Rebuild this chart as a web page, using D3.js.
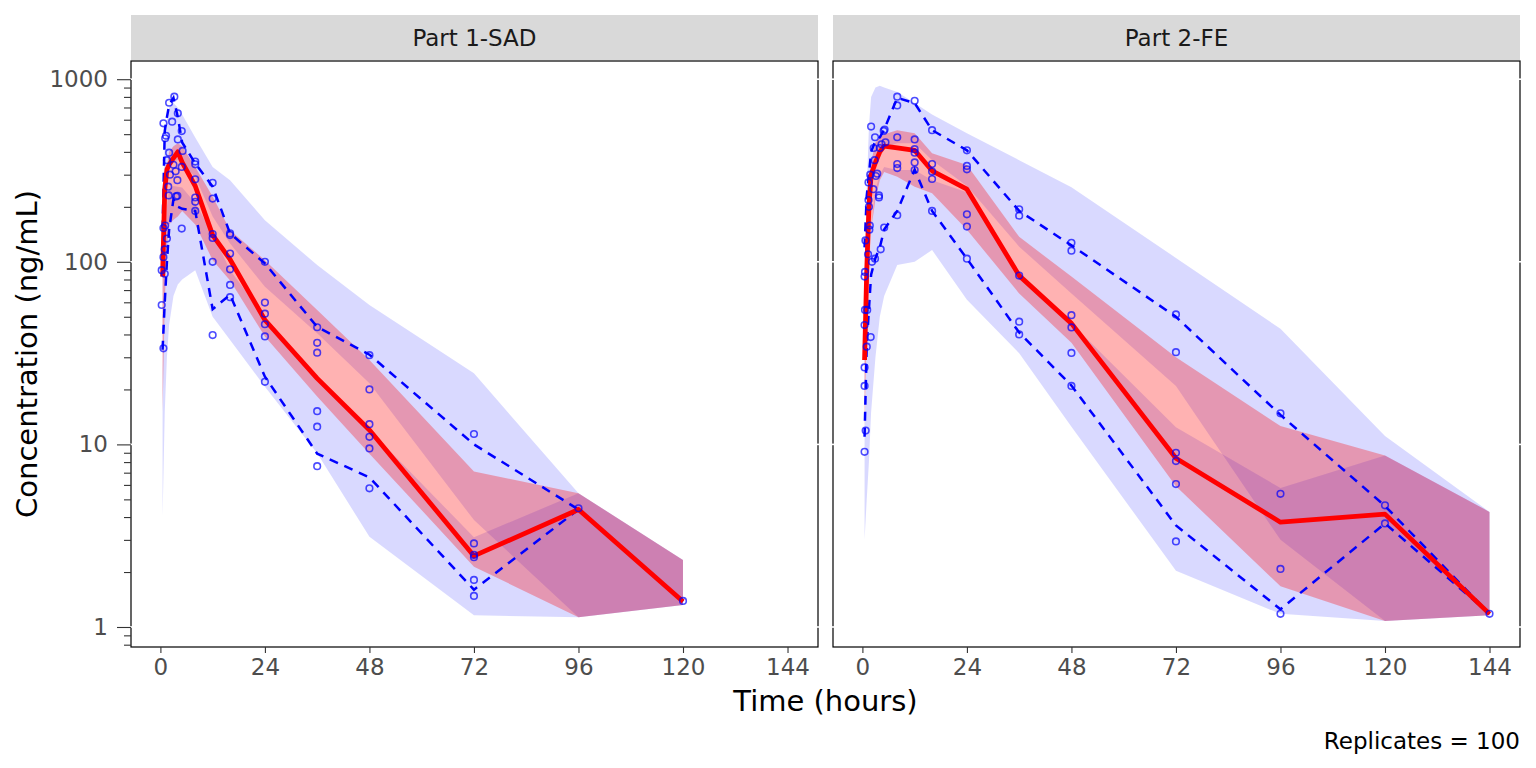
<!DOCTYPE html>
<html>
<head>
<meta charset="utf-8">
<script src="https://cdn.jsdelivr.net/npm/d3@7"></script>
<style>
	body { margin: 0; background: #ffffff; }
	text { font-family: "DejaVu Sans", sans-serif; }
</style>
</head>
<body>
<svg id="chart" width="1536" height="768"></svg>
<script>
var panelNames = ["Part 1-SAD", "Part 2-FE"];
var xTickValues = [0, 24, 48, 72, 96, 120, 144];
var yMajorTicks = [1, 10, 100, 1000];
var yMinorTicks = [0.8, 0.9, 2, 3, 4, 5, 6, 7, 8, 9, 20, 30, 40, 50, 60, 70, 80, 90,
	200, 300, 400, 500, 600, 700, 800, 900];
var replicates = 100;

// Part 1-SAD : simulated CIs per bin
var sadBinTime = [0.5, 1, 1.5, 2, 3, 4, 5, 8, 12, 16, 24, 36, 48, 72, 96, 120];
var sadP95Hi = [200, 450, 600, 700, 740, 700, 640, 480, 331, 280, 169, 96, 58, 24.5, 5.4, 2.33];
var sadP95Lo = [30, 150, 250, 330, 350, 362, 340, 292, 177, 126, 73, 40.6, 21.6, 3.85, 1.13, 1.32];
var sadP05Hi = [25, 120, 200, 250, 260, 258, 255, 210, 143, 90, 50, 23.5, 12, 3.1, 5.4, 2.33];
var sadP05Lo = [4, 15, 30, 45, 65, 75, 80, 90, 50, 37.3, 20.7, 8.94, 3.12, 1.16, 1.13, 1.32];
var sadP50Hi = [90, 250, 330, 400, 430, 446, 430, 330, 228, 149, 102, 54.5, 29, 7.1, 5.4, 2.33];
var sadP50Lo = [15, 60, 120, 160, 170, 177, 190, 160, 102, 79, 39, 18.3, 8.9, 2.14, 1.13, 1.32];
// observed percentiles
var sadObsP50 = [83, 250, 320, 340, 370, 400, 350, 260, 140, 103, 48, 23, 12, 2.45, 4.4, 1.38];
var sadObsP05 = [33, 60, 100, 150, 220, 200, 195, 190, 55, 66, 23.5, 8.9, 6.6, 1.6, 4.4, 1.38];
var sadObsP95 = [150, 520, 620, 720, 790, 620, 450, 346, 258, 143, 98, 44, 31, 10, 4.4, 1.38];
// observed concentrations
var sadPtTime = [0.3, 0.7, 0.3, 0.7, 1.0, 0.7, 1.1, 1.5, 1.0, 0.7, 1.1, 1.3, 1.5, 1.8, 1.9,
	2.0, 2.7, 2.0, 3.0, 2.2, 3.2, 4.0, 4.0, 3.5, 3.9, 3.6, 3.9, 4.9, 5.1, 4.9, 4.9,
	8, 8, 8, 8, 8, 8, 12, 12, 12, 12, 12, 12, 16, 16, 16, 16, 16, 16,
	24, 24, 24, 24, 24, 24, 36, 36, 36, 36, 36, 36, 48, 48, 48, 48, 48, 48,
	72, 72, 72, 72, 72, 72, 96, 120];
var sadPtConc = [58, 33.6, 90, 106, 117, 153, 158, 134, 86, 573, 475, 490, 360, 258, 231,
	743, 585, 396, 340, 300, 802, 650, 468, 313, 280, 228, 230, 520, 405, 331, 152,
	354, 342, 283, 225, 213, 190, 271, 222, 142, 135, 100, 39.7, 143, 140, 111, 91, 74.7, 64,
	100, 59.8, 52, 45.5, 39, 22, 43.8, 36, 31.8, 15.2, 12.5, 7.6, 30.8, 20, 12.9, 11, 9.5, 5.75,
	11.4, 2.87, 2.48, 2.41, 1.81, 1.48, 4.47, 1.39];

// Part 2-FE : simulated CIs per bin
var feBinTime = [0.5, 1, 1.5, 2, 3, 4, 5, 8, 12, 16, 24, 36, 48, 72, 96, 120, 144];
var feP95Hi = [40, 250, 550, 800, 900, 920, 900, 850, 740, 640, 506, 360, 256, 105, 43, 11.1, 4.27];
var feP95Lo = [15, 60, 150, 250, 350, 400, 420, 446, 446, 360, 260, 121, 67, 20.9, 3.0, 1.08, 1.16];
var feP05Hi = [12, 40, 80, 150, 250, 300, 330, 318, 318, 280, 240, 84, 46, 12.4, 5.77, 8.7, 4.27];
var feP05Lo = [3, 5, 8, 15, 30, 50, 65, 96, 100, 116, 62, 31.6, 12.5, 2.03, 1.18, 1.08, 1.16];
var feP50Hi = [40, 150, 250, 350, 450, 480, 500, 526, 506, 393, 339, 137, 83, 30, 12.6, 8.7, 4.27];
var feP50Lo = [12, 40, 80, 150, 220, 280, 310, 292, 258, 237, 150, 67, 36, 5.9, 1.67, 1.08, 1.16];
// observed percentiles
var feObsP50 = [29, 90, 200, 300, 350, 400, 430, 420, 408, 315, 250, 84, 46, 8.4, 3.75, 4.15, 1.18];
var feObsP05 = [11, 35, 55, 85, 105, 120, 150, 190, 320, 190, 104, 41, 21, 3.6, 1.25, 3.69, 1.18];
var feObsP95 = [120, 230, 300, 400, 460, 480, 530, 790, 740, 526, 408, 190, 123, 50, 14.5, 4.6, 1.18];
// observed concentrations
var fePtTime = [0.5, 0.75, 0.5, 0.5, 0.5, 0.6, 0.5, 0.6, 0.7,
	1.0, 1.1, 1.3, 1.7, 1.4, 1.4,
	1.9, 1.6, 1.5, 1.8,
	2.2, 2.5, 2.0, 2.6,
	2.9, 3.1, 3.4, 2.8, 2.9,
	4.2, 3.8, 3.8, 4.0, 4.4,
	5.0, 5.3, 4.9, 5.1,
	8, 8, 8, 8, 8, 8, 12, 12, 12, 12, 12, 12, 16, 16, 16, 16, 16,
	24, 24, 24, 24, 24, 24, 36, 36, 36, 36, 36, 48, 48, 48, 48, 48, 48,
	72, 72, 72, 72, 72, 72, 96, 96, 96, 96, 120, 120, 144];
var fePtConc = [9.1, 11.9, 20.9, 26.4, 45, 54.5, 83, 88, 131,
	34.3, 54.5, 110, 158, 218, 272,
	38.7, 150, 200, 300,
	100, 250, 550, 420,
	104, 295, 304, 360, 481,
	117, 225, 231, 420, 440,
	154, 451, 521, 530,
	802, 718, 481, 343, 326, 180, 761, 468, 414, 396, 350, 318, 526, 343, 312, 284, 190,
	408, 335, 321, 182, 156, 104, 194, 179, 84, 47, 40, 127, 115, 51, 43.7, 31.7, 20.9,
	51.5, 32, 9.0, 8.1, 6.06, 2.94, 14.8, 5.36, 2.08, 1.18, 4.64, 3.69, 1.18];

var panels = [
	{name: panelNames[0], bins: sadBinTime, p95Hi: sadP95Hi, p95Lo: sadP95Lo, p05Hi: sadP05Hi, p05Lo: sadP05Lo,
		p50Hi: sadP50Hi, p50Lo: sadP50Lo, obs50: sadObsP50, obs05: sadObsP05, obs95: sadObsP95,
		ptTime: sadPtTime, ptConc: sadPtConc},
	{name: panelNames[1], bins: feBinTime, p95Hi: feP95Hi, p95Lo: feP95Lo, p05Hi: feP05Hi, p05Lo: feP05Lo,
		p50Hi: feP50Hi, p50Lo: feP50Lo, obs50: feObsP50, obs05: feObsP05, obs95: feObsP95,
		ptTime: fePtTime, ptConc: fePtConc}
];

// layout
var panelLeft = [131, 833];
var panelTop = 61, panelW = 687, panelH = 586;
var stripTop = 15, stripH = 45;

var svg = d3.select("#chart");

var x = d3.scaleLinear().domain([-6.75, 151]).range([0, panelW]);
var y = d3.scaleLog().domain([0.777, 1258]).range([panelH, 0]);

var band = d3.area()
	.x(function(d) { return x(d.t); })
	.y0(function(d) { return y(d.lo); })
	.y1(function(d) { return y(d.hi); });

var line = d3.line()
	.x(function(d) { return x(d.t); })
	.y(function(d) { return y(d.v); });

function zipBand(times, lo, hi) {
	return times.map(function(t, i) { return {t: t, lo: lo[i], hi: hi[i]}; });
}

function zipLine(times, vals) {
	return times.map(function(t, i) { return {t: t, v: vals[i]}; });
}

function styleAxis(sel) {
	sel.select(".domain").remove();
	sel.selectAll(".tick line").attr("stroke", "#333333").attr("stroke-width", 1.1);
	sel.selectAll(".tick text")
		.attr("fill", "#4d4d4d")
		.style("font-size", "23px")
		.style("font-family", "'DejaVu Sans', sans-serif");
}

function drawPanel(p, i) {
	var x0 = panelLeft[i];

	// strip
	svg.append("rect")
		.attr("x", x0).attr("y", stripTop)
		.attr("width", panelW).attr("height", stripH)
		.attr("fill", "#d9d9d9");
	svg.append("text")
		.attr("x", x0 + panelW / 2).attr("y", stripTop + stripH / 2)
		.attr("dy", "0.36em")
		.attr("text-anchor", "middle")
		.attr("fill", "#1a1a1a")
		.style("font-size", "23px")
		.text(p.name);

	var g = svg.append("g").attr("transform", "translate(" + x0 + "," + panelTop + ")");
	g.append("clipPath").attr("id", "clip" + i)
		.append("rect").attr("width", panelW).attr("height", panelH);
	var plot = g.append("g").attr("clip-path", "url(#clip" + i + ")");

	// simulated CI ribbons
	plot.append("path").datum(zipBand(p.bins, p.p95Lo, p.p95Hi))
		.attr("d", band).attr("fill", "#0000ff").attr("fill-opacity", 0.15);
	plot.append("path").datum(zipBand(p.bins, p.p05Lo, p.p05Hi))
		.attr("d", band).attr("fill", "#0000ff").attr("fill-opacity", 0.15);
	plot.append("path").datum(zipBand(p.bins, p.p50Lo, p.p50Hi))
		.attr("d", band).attr("fill", "#ff0000").attr("fill-opacity", 0.3);

	// observed percentiles
	[p.obs05, p.obs95].forEach(function(vals) {
		plot.append("path").datum(zipLine(p.bins, vals))
			.attr("d", line)
			.attr("fill", "none")
			.attr("stroke", "#0000ff")
			.attr("stroke-width", 2.5)
			.attr("stroke-dasharray", "9,7");
	});
	plot.append("path").datum(zipLine(p.bins, p.obs50))
		.attr("d", line)
		.attr("fill", "none")
		.attr("stroke", "#ff0000")
		.attr("stroke-width", 4.8)
		.attr("stroke-linejoin", "round");

	// observations
	plot.selectAll("circle.obs")
		.data(zipLine(p.ptTime, p.ptConc))
		.enter().append("circle")
		.attr("class", "obs")
		.attr("cx", function(d) { return x(d.t); })
		.attr("cy", function(d) { return y(d.v); })
		.attr("r", 3.3)
		.attr("fill", "none")
		.attr("stroke", "#0000ff")
		.attr("stroke-opacity", 0.7)
		.attr("stroke-width", 1.6);

	// border
	g.append("rect")
		.attr("width", panelW).attr("height", panelH)
		.attr("fill", "none")
		.attr("stroke", "#000000")
		.attr("stroke-width", 1.2);

	// little white notches on the vertical borders at the decades
	yMajorTicks.forEach(function(v) {
		[0, panelW].forEach(function(bx) {
			g.append("line")
				.attr("x1", bx - 2.5).attr("x2", bx + 2.5)
				.attr("y1", y(v)).attr("y2", y(v))
				.attr("stroke", "#ffffff")
				.attr("stroke-width", 1.6);
		});
	});

	// x axis
	var xa = g.append("g")
		.attr("transform", "translate(0," + panelH + ")")
		.call(d3.axisBottom(x).tickValues(xTickValues).tickSize(6).tickPadding(6));
	styleAxis(xa);

	// y axis only on first panel
	if (i === 0) {
		var ya = g.append("g")
			.call(d3.axisLeft(y).tickValues(yMajorTicks).tickSize(14).tickPadding(9)
				.tickFormat(d3.format("d")));
		styleAxis(ya);
		var ym = g.append("g")
			.call(d3.axisLeft(y).tickValues(yMinorTicks).tickSize(7).tickFormat(""));
		styleAxis(ym);
	}
}

panels.forEach(drawPanel);

// titles
svg.append("text")
	.attr("x", (panelLeft[0] + panelLeft[1] + panelW) / 2)
	.attr("y", 711)
	.attr("text-anchor", "middle")
	.attr("fill", "#000000")
	.style("font-size", "29px")
	.text("Time (hours)");

svg.append("text")
	.attr("transform", "translate(37," + (panelTop + panelH / 2) + ") rotate(-90)")
	.attr("text-anchor", "middle")
	.attr("fill", "#000000")
	.style("font-size", "29px")
	.text("Concentration (ng/mL)");

svg.append("text")
	.attr("x", panelLeft[1] + panelW)
	.attr("y", 749)
	.attr("text-anchor", "end")
	.attr("fill", "#000000")
	.style("font-size", "23px")
	.text("Replicates = " + replicates);
</script>
</body>
</html>
